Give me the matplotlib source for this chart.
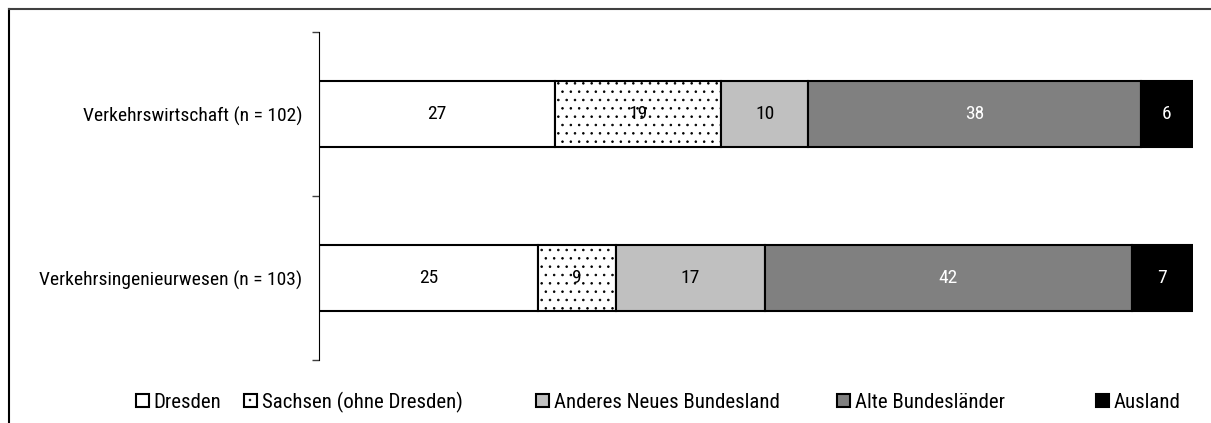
import matplotlib.pyplot as plt
from matplotlib import font_manager
from matplotlib.lines import Line2D
from matplotlib.patches import Patch

# pick a narrow font if one is installed
font = 'Liberation Sans'
for cand in ['Liberation Sans Narrow', 'Arial Narrow', 'Roboto Condensed', 'Open Sans Condensed']:
    try:
        font_manager.findfont(cand, fallback_to_default=False)
        font = cand
        break
    except ValueError:
        pass
plt.rcParams['font.family'] = [font, 'DejaVu Sans']
plt.rcParams['hatch.linewidth'] = 0.6

# Data (percent)
categories = ['Verkehrsingenieurwesen (n = 103)', 'Verkehrswirtschaft (n = 102)']
series = ['Dresden', 'Sachsen (ohne Dresden)', 'Anderes Neues Bundesland',
          'Alte Bundesländer', 'Ausland']
values = {
    'Dresden': [25, 27],
    'Sachsen (ohne Dresden)': [9, 19],
    'Anderes Neues Bundesland': [17, 10],
    'Alte Bundesländer': [42, 38],
    'Ausland': [7, 6],
}

colors = ['white', 'white', '#c0c0c0', '#808080', 'black']
hatches = [None, '..', None, None, None]
text_colors = ['black', 'black', 'black', 'white', 'white']
legend_x = [136, 244, 536, 837, 1096]
fs = 14
fs_leg = 15

fig = plt.figure(figsize=(12.11, 4.23), dpi=100)
ax = fig.add_axes([319 / 1211, 1 - 360 / 423, 874 / 1211, 328 / 423])

ypos = list(range(len(categories)))
left = [0] * len(categories)
handles = []
for i, name in enumerate(series):
    vals = values[name]
    bars = ax.barh(ypos, vals, left=left, height=0.4, color=colors[i],
                   edgecolor='black', linewidth=1.5, hatch=hatches[i])
    for b, v in zip(bars, vals):
        ax.text(b.get_x() + b.get_width() / 2, b.get_y() + b.get_height() / 2, str(v),
                ha='center', va='center', fontsize=fs, color=text_colors[i])
    left = [l + v for l, v in zip(left, vals)]
    handles.append(Patch(facecolor=colors[i], edgecolor='black', linewidth=1.5,
                         hatch=hatches[i], label=name))

ax.set_xlim(0, 100)
ax.set_ylim(-0.5, len(categories) - 0.5)
ax.set_yticks([-0.5, 0.5, 1.5])
ax.set_yticklabels([])
ax.set_yticks(ypos, minor=True)
ax.set_yticklabels(categories, minor=True, fontsize=fs)
ax.tick_params(axis='y', which='major', direction='out', length=5, width=1, color='#404040')
ax.tick_params(axis='y', which='minor', length=0, pad=12)
ax.xaxis.set_visible(False)
for s in ['top', 'right', 'bottom']:
    ax.spines[s].set_visible(False)
ax.spines['left'].set_color('black')

# legend, one entry each so spacing follows the original
for h, x in zip(handles, legend_x):
    fig.legend(handles=[h], loc='center left', bbox_to_anchor=(x / 1211, 1 - 402 / 423),
               frameon=False, fontsize=fs_leg, handlelength=0.6, handleheight=0.6,
               handletextpad=0.25, borderpad=0, borderaxespad=0)

# outer frame
fig.add_artist(Line2D([8.5 / 1211, 8.5 / 1211], [0, 1 - 9.5 / 423], color='black', lw=1.5))
fig.add_artist(Line2D([8.5 / 1211, 1], [1 - 9.5 / 423, 1 - 9.5 / 423], color='#404040', lw=1.5))

fig.savefig('out.png', dpi=100)
